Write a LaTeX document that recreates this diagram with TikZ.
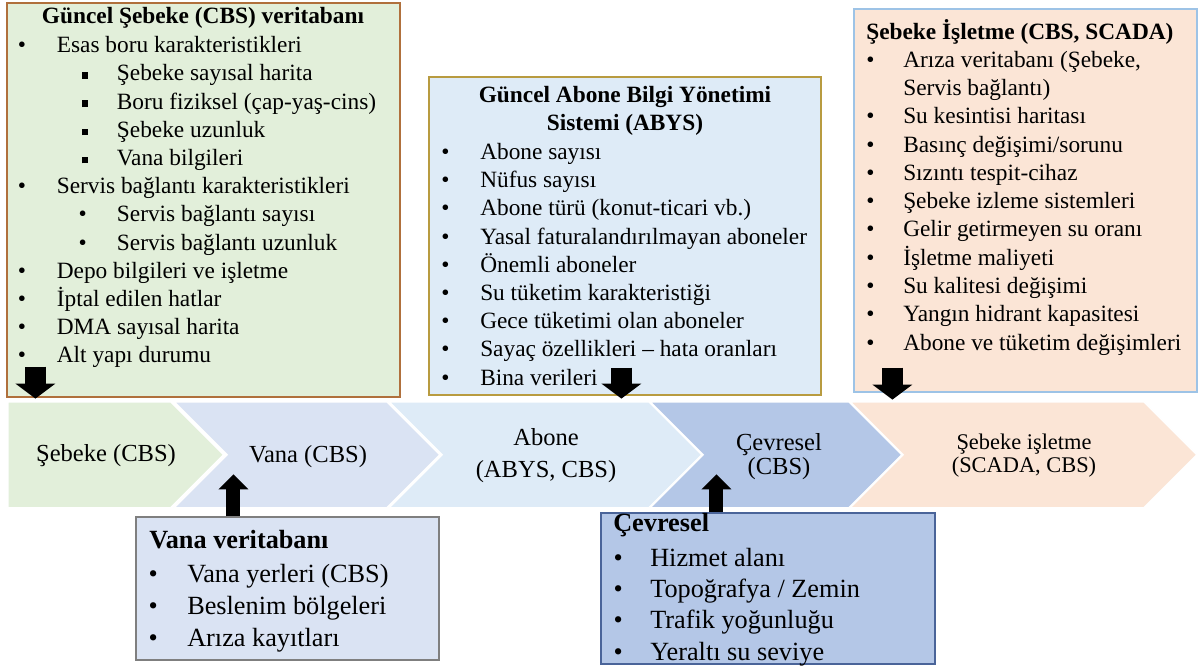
\documentclass[tikz,border=0pt]{standalone}
\usepackage{fontspec}
\setmainfont{Liberation Serif}
\usetikzlibrary{shapes.symbols, arrows.meta, positioning, fit, calc}

\definecolor{sebekegreen}{HTML}{E2EFDA}
\definecolor{sebekeedge}{HTML}{B0703C}
\definecolor{valveblue}{HTML}{DAE3F3}
\definecolor{valveedge}{HTML}{7F7F7F}
\definecolor{abysblue}{HTML}{DEEBF7}
\definecolor{abysedge}{HTML}{B89B40}
\definecolor{envblue}{HTML}{B4C7E7}
\definecolor{envedge}{HTML}{4A6499}
\definecolor{opspeach}{HTML}{FBE5D6}
\definecolor{opsedge}{HTML}{9DC3E6}

\newcommand{\bul}[1]{\makebox[#1][l]{\textbullet}}
\newcommand{\sqbul}[1]{\makebox[#1][l]{\rule[1.5pt]{4.9pt}{4.9pt}}}
\newcommand{\listfont}{\fontsize{17.5pt}{21.15pt}\selectfont}
\newcommand{\lowfont}{\fontsize{19.7pt}{23.7pt}\selectfont}

\begin{document}
\begin{tikzpicture}[
  x=0.75pt, y=-0.75pt,
  dbbox/.style={rectangle, line width=0.9pt, inner sep=0pt},
  titletext/.style={inner sep=0pt, font=\listfont\bfseries},
  % multi-line nodes: base = baseline of the last line
  listtext/.style={anchor=base west, inner sep=0pt, align=left, font=\listfont},
  lowtitle/.style={anchor=base west, inner sep=0pt, font=\lowfont\bfseries},
  lowlist/.style={anchor=base west, inner sep=0pt, align=left, font=\lowfont},
  chevron/.style={signal, signal to=east, signal from=west, signal pointer angle=90,
                  draw=white, line width=1.2pt, minimum height=79.5pt,
                  inner sep=0pt, anchor=north west},
  steplabel/.style={align=center, inner sep=0pt, font=\fontsize{18.4pt}{18.4pt}\selectfont},
  downarr/.style={line width=15.75pt, -{Triangle[length=11.25pt, width=30pt, line width=0pt]}},
  uparr/.style={line width=10.5pt, -{Triangle[length=11.25pt, width=22.5pt, line width=0pt]}},
]
  \fill[white] (0,0) rectangle (1198,670);
  \useasboundingbox (0,0) rectangle (1198,670);

  % process steps
  \node[chevron, fill=sebekegreen, signal from=nowhere, minimum width=162pt] (sebekestep) at (7,401) {};
  \node[chevron, fill=valveblue, minimum width=199.5pt] (valvestep) at (172,401) {};
  \node[chevron, fill=abysblue, minimum width=234.75pt] (abysstep) at (387,401) {};
  \node[chevron, fill=envblue, minimum width=189pt] (envstep) at (648,401) {};
  \node[chevron, fill=opspeach, minimum width=260.25pt] (opsstep) at (848,401) {};

  \node[steplabel] (sebekelabel) at (106,456) {Şebeke (CBS)};
  \node[steplabel] (valvelabel) at (308,457) {Vana (CBS)};
  \node[steplabel] (abyslabel) at (546,456) {Abone\\[5.6pt](ABYS, CBS)};
  \node[steplabel] (envlabel) at (779,456.5) {Çevresel\\(CBS)};
  \node[steplabel, font=\fontsize{16.8pt}{17.3pt}\selectfont] (opslabel) at (1024,455.5) {Şebeke işletme\\(SCADA, CBS)};

  % data sources
  \node[dbbox, draw=sebekeedge, fill=sebekegreen, fit={(7,3) (400,397)}] (sebekedb) {};
  \node[titletext, anchor=base] (sebeketitle) at (203,24) {Güncel Şebeke (CBS) veritabanı};
  \node[listtext] (sebekelist) at (17.6,362.8) {%
    \bul{29.25pt}Esas boru karakteristikleri\\
    \hspace*{47.8pt}\sqbul{26.5pt}Şebeke sayısal harita\\
    \hspace*{47.8pt}\sqbul{26.5pt}Boru fiziksel (çap-yaş-cins)\\
    \hspace*{47.8pt}\sqbul{26.5pt}Şebeke uzunluk\\
    \hspace*{47.8pt}\sqbul{26.5pt}Vana bilgileri\\
    \bul{29.25pt}Servis bağlantı karakteristikleri\\
    \hspace*{45.5pt}\bul{28.8pt}Servis bağlantı sayısı\\
    \hspace*{45.5pt}\bul{28.8pt}Servis bağlantı uzunluk\\
    \bul{29.25pt}Depo bilgileri ve işletme\\
    \bul{29.25pt}İptal edilen hatlar\\
    \bul{29.25pt}DMA sayısal harita\\
    \bul{29.25pt}Alt yapı durumu};

  \node[dbbox, draw=abysedge, fill=abysblue, fit={(429,77) (821,395)}] (abysdb) {};
  \node[titletext, anchor=base, align=center, font=\fontsize{17.5pt}{21pt}\selectfont\bfseries] (abystitle) at (625,130.7)
    {Güncel Abone Bilgi Yönetimi\\Sistemi (ABYS)};
  \node[listtext] (abyslist) at (441,385) {%
    \bul{29.25pt}Abone sayısı\\
    \bul{29.25pt}Nüfus sayısı\\
    \bul{29.25pt}Abone türü (konut-ticari vb.)\\
    \bul{29.25pt}Yasal faturalandırılmayan aboneler\\
    \bul{29.25pt}Önemli aboneler\\
    \bul{29.25pt}Su tüketim karakteristiği\\
    \bul{29.25pt}Gece tüketimi olan aboneler\\
    \bul{29.25pt}Sayaç özellikleri -- hata oranları\\
    \bul{29.25pt}Bina verileri};

  \node[dbbox, draw=opsedge, fill=opspeach, fit={(854,9) (1197,392)}] (opsdb) {};
  \node[titletext, anchor=base west] (opstitle) at (866,39.3) {Şebeke İşletme (CBS, SCADA)};
  \node[listtext, font=\fontsize{17.5pt}{21.2pt}\selectfont] (opslist) at (866,350) {%
    \bul{27.75pt}Arıza veritabanı (Şebeke,\\
    \hspace*{27.75pt}Servis bağlantı)\\
    \bul{27.75pt}Su kesintisi haritası\\
    \bul{27.75pt}Basınç değişimi/sorunu\\
    \bul{27.75pt}Sızıntı tespit-cihaz\\
    \bul{27.75pt}Şebeke izleme sistemleri\\
    \bul{27.75pt}Gelir getirmeyen su oranı\\
    \bul{27.75pt}İşletme maliyeti\\
    \bul{27.75pt}Su kalitesi değişimi\\
    \bul{27.75pt}Yangın hidrant kapasitesi\\
    \bul{27.75pt}Abone ve tüketim değişimleri};

  \node[dbbox, draw=valveedge, fill=valveblue, fit={(136,517) (439,660)}] (valvedb) {};
  \node[lowtitle] (valvetitle) at (149,548) {Vana veritabanı};
  \node[lowlist] (valvelist) at (148.4,646) {%
    \bul{28.95pt}Vana yerleri (CBS)\\
    \bul{28.95pt}Beslenim bölgeleri\\
    \bul{28.95pt}Arıza kayıtları};

  \node[dbbox, draw=envedge, fill=envblue, fit={(601,513) (935,664)}] (envdb) {};
  \node[lowtitle] (envtitle) at (613,531.7) {Çevresel};
  \node[lowlist, font=\fontsize{19.7pt}{23.5pt}\selectfont] (envlist) at (613.4,660) {%
    \bul{27.45pt}Hizmet alanı\\
    \bul{27.45pt}Topoğrafya / Zemin\\
    \bul{27.45pt}Trafik yoğunluğu\\
    \bul{27.45pt}Yeraltı su seviye};

  % feeds
  \draw[downarr] ($(sebekedb.south west)+(29,-31)$) -- ($(sebekedb.south west)+(29,1)$);
  \draw[downarr] ($(abysdb.south west)+(193,-28)$) -- ($(abysdb.south west)+(193,3)$);
  \draw[downarr] ($(opsdb.south west)+(39,-25)$) -- ($(opsdb.south west)+(39,7)$);
  \draw[uparr] ($(valvedb.north west)+(98,0)$) -- ($(valvedb.north west)+(98,-42)$);
  \draw[uparr] ($(envdb.north west)+(116,0)$) -- ($(envdb.north west)+(116,-38)$);
\end{tikzpicture}
\end{document}
